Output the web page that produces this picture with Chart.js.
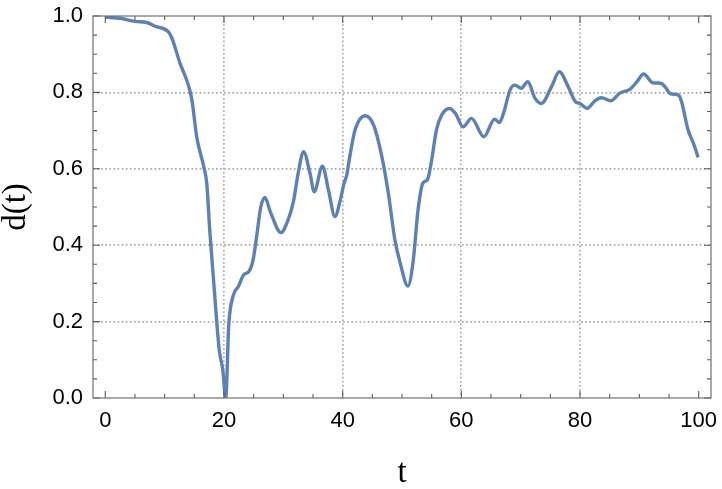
<!DOCTYPE html>
<html lang="en">
<head>
<meta charset="UTF-8">
<title>d(t)</title>
<style>
  html, body { margin: 0; padding: 0; background: #fff; }
  #wrap { width: 722px; height: 489px; position: relative; }
</style>
</head>
<body>
<div id="wrap"><canvas id="chart"></canvas></div>
<script src="https://cdn.jsdelivr.net/npm/chart.js"></script>
<script>
// values
const tValues = [0, 2.5, 5, 7, 8.4, 10.6, 11.2, 12.6, 14.0, 14.6, 15.4, 16.6, 17.1, 17.6, 18.2, 18.8, 19.2, 19.8, 20.3,
  20.8, 21.6, 22.4, 23.3, 24.2, 24.9, 25.5, 26.2, 26.9, 27.8, 29.6, 30.8, 31.7, 32.5, 33.4, 34.5, 35.2, 36.6, 37.6, 38.7,
  39.6, 40.2, 40.7, 41.2, 42.1, 43.8, 45.2, 46.6, 47.7, 48.8, 49.7, 51.0, 51.9, 52.7, 53.5, 54.3, 55.0, 55.8, 56.7, 58.0,
  59.0, 60.3, 61.7, 63.8, 65.6, 66.4, 67.1, 68.2, 69.0, 70.1, 71.2, 72.4, 73.5, 75.2, 76.5, 78.0, 79.2, 80.0, 81.2, 82.5,
  83.6, 85.2, 86.7, 88.4, 89.6, 90.7, 92.3, 93.6, 94.3, 95.3, 96.6, 97.1, 98.2, 99.1, 99.9];
const dValues = [0.997, 0.994, 0.986, 0.983, 0.973, 0.959, 0.943, 0.876, 0.819, 0.78, 0.684, 0.605, 0.562, 0.44, 0.318, 0.196, 0.126, 0.073, 0.0,
  0.19, 0.27, 0.291, 0.322, 0.331, 0.361, 0.422, 0.50, 0.525, 0.488, 0.433, 0.466, 0.514, 0.588, 0.645, 0.588, 0.54, 0.607, 0.545, 0.475,
  0.518, 0.56, 0.585, 0.632, 0.702, 0.739, 0.715, 0.632, 0.536, 0.414, 0.353, 0.293, 0.361, 0.492, 0.562, 0.572, 0.623, 0.702, 0.741, 0.758,
  0.745, 0.71, 0.732, 0.684, 0.73, 0.721, 0.745, 0.806, 0.819, 0.811, 0.828, 0.785, 0.771, 0.815, 0.854, 0.815, 0.776, 0.771, 0.758, 0.778,
  0.786, 0.778, 0.798, 0.808, 0.828, 0.848, 0.825, 0.824, 0.815, 0.796, 0.793, 0.776, 0.702, 0.667, 0.63];

const xTicks = [0, 20, 40, 60, 80, 100];
const yTicks = [0, 0.2, 0.4, 0.6, 0.8, 1.0];
const xMinorTicks = [5, 10, 15, 25, 30, 35, 45, 50, 55, 65, 70, 75, 85, 90, 95];
const yMinorTicks = [0.05, 0.1, 0.15, 0.25, 0.3, 0.35, 0.45, 0.5, 0.55, 0.65, 0.7, 0.75, 0.85, 0.9, 0.95];

const points = tValues.map((t, i) => ({ x: t, y: dValues[i] }));

// frame box with inward ticks on all four sides
const frameTicks = {
  id: 'frameTicks',
  afterDraw(chart) {
    const { ctx, chartArea: a, scales: { x, y } } = chart;
    ctx.save();
    ctx.strokeStyle = '#5a5a5a';
    ctx.lineWidth = 1.1;
    ctx.beginPath();
    const mark = (vals, len) => {
      vals.forEach(v => {
        const px = x.getPixelForValue(v);
        ctx.moveTo(px, a.bottom); ctx.lineTo(px, a.bottom - len);
        ctx.moveTo(px, a.top); ctx.lineTo(px, a.top + len);
      });
    };
    const markY = (vals, len) => {
      vals.forEach(v => {
        const py = y.getPixelForValue(v);
        ctx.moveTo(a.left, py); ctx.lineTo(a.left + len, py);
        ctx.moveTo(a.right, py); ctx.lineTo(a.right - len, py);
      });
    };
    mark(xTicks, 7);
    mark(xMinorTicks, 4);
    markY(yTicks, 7);
    markY(yMinorTicks, 4);
    ctx.stroke();
    ctx.strokeStyle = '#707070';
    ctx.lineWidth = 1.2;
    ctx.strokeRect(a.left, a.top, a.right - a.left, a.bottom - a.top);
    ctx.restore();
  }
};

const gridColor = '#ababab';

new Chart(document.getElementById('chart'), {
  type: 'line',
  data: {
    datasets: [{
      data: points,
      borderColor: 'rgb(94, 129, 181)',
      borderWidth: 3.4,
      pointRadius: 0,
      fill: false,
      cubicInterpolationMode: 'monotone'
    }]
  },
  options: {
    responsive: true,
    maintainAspectRatio: false,
    animation: false,
    events: [],
    layout: { padding: { top: 16, right: 11, left: 0, bottom: 0 } },
    plugins: { legend: { display: false }, tooltip: { enabled: false } },
    scales: {
      x: {
        type: 'linear',
        min: -2.07,
        max: 102.07,
        afterBuildTicks: s => { s.ticks = xTicks.map(v => ({ value: v })); },
        afterFit: s => { s.height = 91; s.paddingLeft = 0; s.paddingRight = 0; },
        grid: {
          drawTicks: false,
          lineWidth: 1.7,
          color: c => (c.tick && c.tick.value > 0 && c.tick.value < 100) ? gridColor : 'rgba(0,0,0,0)'
        },
        border: { display: false, dash: [1.7, 2.4] },
        ticks: {
          padding: 10,
          maxRotation: 0,
          autoSkip: false,
          color: '#000',
          font: { family: '"Liberation Sans", Arial, sans-serif', size: 22 },
          callback: v => String(v)
        },
        title: {
          display: true,
          text: 't',
          color: '#000',
          padding: { top: 0, bottom: -4 },
          font: { family: '"Liberation Serif", "Times New Roman", serif', size: 33 }
        }
      },
      y: {
        min: 0,
        max: 1,
        afterBuildTicks: s => { s.ticks = yTicks.map(v => ({ value: v })); },
        afterFit: s => { s.width = 93; s.paddingTop = 0; s.paddingBottom = 0; },
        grid: {
          drawTicks: false,
          lineWidth: 1.7,
          color: c => (c.tick && c.tick.value > 0.001 && c.tick.value < 0.999) ? gridColor : 'rgba(0,0,0,0)'
        },
        border: { display: false, dash: [1.7, 2.4] },
        ticks: {
          padding: 10,
          autoSkip: false,
          color: '#000',
          font: { family: '"Liberation Sans", Arial, sans-serif', size: 22 },
          callback: v => v.toFixed(1)
        },
        title: {
          display: true,
          text: 'd(t)',
          color: '#000',
          padding: { top: -3, bottom: 0 },
          font: { family: '"Liberation Serif", "Times New Roman", serif', size: 33 }
        }
      }
    }
  },
  plugins: [frameTicks]
});
</script>
</body>
</html>
